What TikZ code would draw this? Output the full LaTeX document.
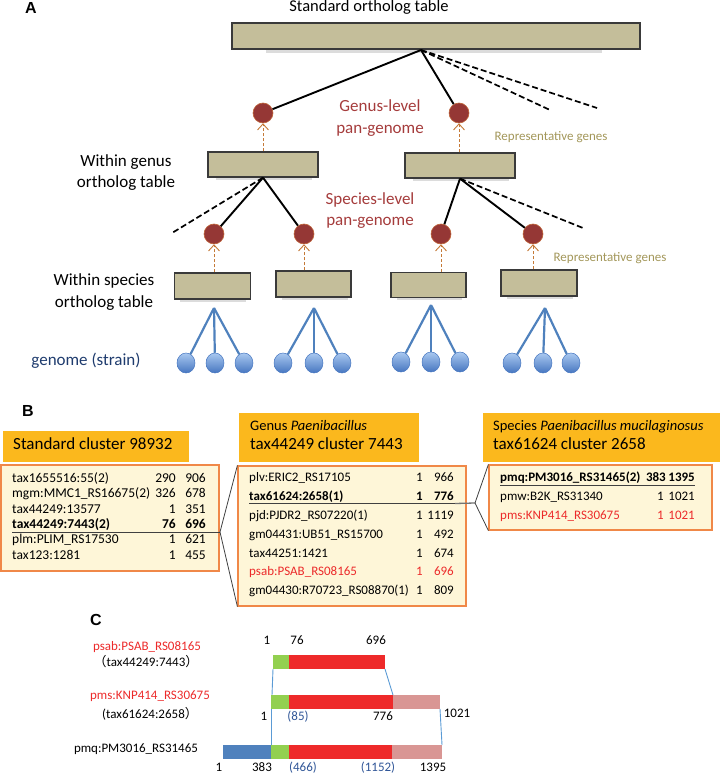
\documentclass[tikz,border=0pt]{standalone}
\usepackage{fontspec}
\setmainfont{Carlito}
\newfontfamily\lbfont{Liberation Sans}
\newfontfamily\cjk{Noto Sans CJK SC}
\usetikzlibrary{arrows.meta,shapes.geometric}
\definecolor{boxtan}{HTML}{C4BE9A}
\definecolor{boxline}{HTML}{3A3A3A}
\definecolor{gred}{HTML}{953735}
\definecolor{gedge}{HTML}{C0663A}
\definecolor{oarrc}{HTML}{C57A38}
\definecolor{redtxt}{HTML}{A53C3C}
\definecolor{olivetxt}{HTML}{A3975A}
\definecolor{blin}{HTML}{4F81BD}
\definecolor{elltop}{HTML}{A9C8F0}
\definecolor{ellbot}{HTML}{4676C0}
\definecolor{gdark}{HTML}{1F3C6E}
\definecolor{hdrc}{HTML}{FBB81D}
\definecolor{tfillc}{HTML}{FEF6D8}
\definecolor{tdrawc}{HTML}{F08848}
\definecolor{tred}{HTML}{EC2A2A}
\definecolor{bargreen}{HTML}{92D050}
\definecolor{barred}{HTML}{EE2A2A}
\definecolor{barpink}{HTML}{D99694}
\definecolor{barblue}{HTML}{4F81BD}
\definecolor{cline}{HTML}{5B9BD5}
\definecolor{numblue}{HTML}{2F5597}
\begin{document}
\begin{tikzpicture}[x=1pt,y=-1pt,
  lbl/.style={font=\lbfont\bfseries\fontsize{16}{18}\selectfont, inner sep=0},
  big/.style={font=\fontsize{17}{20}\selectfont, inner sep=0, text height=0.7em, text depth=0.2em},
  redt/.style={big, text=redtxt},
  repg/.style={font=\fontsize{13}{15}\selectfont, inner sep=0, text height=0.7em, text depth=0.2em, text=olivetxt},
  tbox/.style={rectangle, draw=boxline, line width=1.3pt, fill=boxtan, inner sep=0},
  shad/.style={fill=gray!55, opacity=0.5},
  gcirc/.style={circle, minimum size=20, inner sep=0, fill=gred, draw=gedge, line width=0.6pt},
  tline/.style={line width=1.9pt, black},
  dline/.style={line width=1.7pt, black, dash pattern=on 6pt off 3pt},
  oarr/.style={oarrc, line width=0.9pt, dash pattern=on 3pt off 2pt, -{Straight Barb[length=6pt,width=11pt]}},
  gell/.style={ellipse, minimum width=18, minimum height=20, inner sep=0, top color=elltop, bottom color=ellbot, draw=ellbot, line width=0.5pt},
  bline/.style={blin, line width=2.2pt},
  hdr/.style={rectangle, fill=hdrc, inner sep=0},
  tab/.style={rectangle, fill=tfillc, draw=tdrawc, line width=1.2pt, inner sep=0},
  hbig/.style={font=\fontsize{17}{20}\selectfont, inner sep=0, anchor=west, text height=0.7em, text depth=0.2em},
  hsmall/.style={font=\fontsize{14.5}{17}\selectfont, inner sep=0, anchor=west, text height=0.7em, text depth=0.2em},
  ra/.style={font=\fontsize{13.5}{16}\selectfont, inner sep=0, anchor=west, text height=0.7em, text depth=0.2em},
  rn/.style={ra, anchor=east},
  rb/.style={font=\fontsize{13}{16}\selectfont, inner sep=0, anchor=west, text height=0.7em, text depth=0.2em},
  rbn/.style={rb, anchor=east},
  conn/.style={black!75, line width=0.8pt},
  ctext/.style={font=\fontsize{13}{16}\selectfont, inner sep=0, text height=0.7em, text depth=0.2em},
  blink/.style={cline, line width=0.9pt}
]
\useasboundingbox (0,0) rectangle (720,775);

% ================= Part A =================
\node[lbl] (labA) at (31,8) {A};
\node[big, font=\fontsize{16.5}{20}\selectfont] (ttl) at (369,9) {Standard ortholog table};
\fill[shad] (266,49) rectangle (602,53);
\node[tbox, minimum width=408, minimum height=26] (top) at (436,36) {};
\coordinate (ta) at (421,50);

\node[gcirc] (g1) at (263,113) {};
\node[gcirc] (g2) at (459,113) {};
\draw[tline] (ta) -- (g1);
\draw[tline] (ta) -- (g2);
\coordinate (td1) at (550,110);
\coordinate (td2) at (597,108);
\draw[dline] (ta) -- (td1);
\draw[dline] (ta) -- (td2);

\node[redt] (gl1) at (380,109) {Genus-level};
\node[redt] (gl2) at (380,131) {pan-genome};
\node[repg] (rg1) at (551,138) {Representative genes};

\fill[shad] (216,177) rectangle (312,180);
\fill[shad] (413,178) rectangle (509,181);
\node[tbox, minimum width=110, minimum height=25] (gb1) at (263,164.5) {};
\node[tbox, minimum width=110, minimum height=25] (gb2) at (460,165.5) {};
\draw[oarr] (gb1.north) -- (g1.south);
\draw[oarr] (gb2.north -| g2) -- (g2.south);
\node[big] (wg1) at (126,164) {Within genus};
\node[big] (wg2) at (126,185) {ortholog table};

\node[redt] (sl1) at (370,202) {Species-level};
\node[redt] (sl2) at (370,223) {pan-genome};

\node[gcirc] (s1) at (214,234) {};
\node[gcirc] (s2) at (304,234) {};
\node[gcirc] (s3) at (441,234) {};
\node[gcirc] (s4) at (533,234) {};
\coordinate (sd1) at (172,233);
\coordinate (sd2) at (583,228);
\draw[dline] (gb1.south) -- (sd1);
\draw[dline] (gb2.south) -- (sd2);
\draw[tline] (gb1.south) -- (s1);
\draw[tline] (gb1.south) -- (s2);
\draw[tline] (gb2.south) -- (s3);
\draw[tline] (gb2.south) -- (s4);

\node[repg] (rg2) at (610,259) {Representative genes};

\fill[shad] (180,299) rectangle (246,302);
\fill[shad] (282,297) rectangle (348,300);
\fill[shad] (397,297) rectangle (462,300);
\fill[shad] (507,296) rectangle (573,299);
\node[tbox, minimum width=76, minimum height=26] (sb1) at (212.5,286) {};
\node[tbox, minimum width=75, minimum height=26] (sb2) at (313.5,284) {};
\node[tbox, minimum width=75, minimum height=25] (sb3) at (428.5,285) {};
\node[tbox, minimum width=76, minimum height=26] (sb4) at (539,283) {};
\draw[oarr] (sb1.north -| s1) -- (s1.south);
\draw[oarr] (sb2.north -| s2) -- (s2.south);
\draw[oarr] (sb3.north -| s3) -- (s3.south);
\draw[oarr] (sb4.north -| s4) -- (s4.south);
\node[big] (ws1) at (104,283) {Within species};
\node[big] (ws2) at (104,305) {ortholog table};

% genomes
\coordinate (ga1) at (214,308);
\coordinate (ga2) at (314,308);
\coordinate (ga3) at (431,305);
\coordinate (ga4) at (545,308);
\foreach \g/\a/\b/\c/\yy in {1/186/215/244/363, 2/283/314/342/363, 3/401/431/460/362, 4/512/543/571/363}{
  \node[gell] (e\g a) at (\a,\yy) {};
  \node[gell] (e\g b) at (\b,\yy) {};
  \node[gell] (e\g c) at (\c,\yy) {};
  \draw[bline] (ga\g) -- (e\g a);
  \draw[bline] (ga\g) -- (e\g b);
  \draw[bline] (ga\g) -- (e\g c);
}
\node[big, text=gdark] (gst) at (86,363) {genome (strain)};

% ================= Part B =================
\node[lbl] (labB) at (28,411) {B};
\node[hdr, minimum width=186, minimum height=31] (h1) at (96,446.5) {};
\node[hdr, minimum width=180, minimum height=49] (h2) at (329,437.5) {};
\node[hdr, minimum width=237, minimum height=49] (h3) at (601.5,437.5) {};
\node[hbig] (h1t) at (13,447) {Standard cluster 98932};
\node[hsmall] (h2a) at (250,428) {Genus \textit{Paenibacillus}};
\node[hbig] (h2b) at (250,447) {tax44249 cluster 7443};
\node[hsmall] (h3a) at (493,428) {Species \textit{Paenibacillus mucilaginosus}};
\node[hbig] (h3b) at (493,447) {tax61624 cluster 2658};

\node[tab, minimum width=218, minimum height=106] (t1) at (110,518) {};
\node[tab, minimum width=228, minimum height=140] (t2) at (352,536) {};
\node[tab, minimum width=223, minimum height=65] (t3) at (600.5,497.5) {};

% table 1
\node[ra] (t1r1) at (12,480) {tax1655516:55(2)};
\node[rn] (t1r1a) at (176,480) {290};
\node[rn] (t1r1b) at (206,480) {906};
\node[ra] (t1r2) at (12,495) {mgm:MMC1\_RS16675(2)};
\node[rn] (t1r2a) at (176,495) {326};
\node[rn] (t1r2b) at (206,495) {678};
\node[ra] (t1r3) at (12,510.5) {tax44249:13577};
\node[rn] (t1r3a) at (176,510.5) {1};
\node[rn] (t1r3b) at (206,510.5) {351};
\node[ra, font=\fontsize{13.5}{16}\selectfont\bfseries] (t1r4) at (12,525.5) {tax44249:7443(2)};
\node[rn, font=\fontsize{13.5}{16}\selectfont\bfseries] (t1r4a) at (176,525.5) {76};
\node[rn, font=\fontsize{13.5}{16}\selectfont\bfseries] (t1r4b) at (206,525.5) {696};
\node[ra] (t1r5) at (12,541) {plm:PLIM\_RS17530};
\node[rn] (t1r5a) at (176,541) {1};
\node[rn] (t1r5b) at (206,541) {621};
\node[ra] (t1r6) at (12,556.5) {tax123:1281};
\node[rn] (t1r6a) at (176,556.5) {1};
\node[rn] (t1r6b) at (206,556.5) {455};

% table 2
\node[rb] (t2r1) at (249,479) {plv:ERIC2\_RS17105};
\node[rbn] (t2r1a) at (423,479) {1};
\node[rbn] (t2r1b) at (454,479) {966};
\node[rb, font=\fontsize{13}{16}\selectfont\bfseries] (t2r2) at (249,498) {tax61624:2658(1)};
\node[rbn, font=\fontsize{13}{16}\selectfont\bfseries] (t2r2a) at (423,498) {1};
\node[rbn, font=\fontsize{13}{16}\selectfont\bfseries] (t2r2b) at (454,498) {776};
\node[rb] (t2r3) at (249,517) {pjd:PJDR2\_RS07220(1)};
\node[rbn] (t2r3a) at (423,517) {1};
\node[rbn] (t2r3b) at (454,517) {1119};
\node[rb] (t2r4) at (249,536) {gm04431:UB51\_RS15700};
\node[rbn] (t2r4a) at (423,536) {1};
\node[rbn] (t2r4b) at (454,536) {492};
\node[rb] (t2r5) at (249,554.5) {tax44251:1421};
\node[rbn] (t2r5a) at (423,554.5) {1};
\node[rbn] (t2r5b) at (454,554.5) {674};
\node[rb, text=tred] (t2r6) at (249,573) {psab:PSAB\_RS08165};
\node[rbn, text=tred] (t2r6a) at (423,573) {1};
\node[rbn, text=tred] (t2r6b) at (454,573) {696};
\node[rb] (t2r7) at (249,592) {gm04430:R70723\_RS08870(1)};
\node[rbn] (t2r7a) at (423,592) {1};
\node[rbn] (t2r7b) at (454,592) {809};

% table 3
\node[rb, font=\fontsize{13}{16}\selectfont\bfseries] (t3r1) at (500,479) {pmq:PM3016\_RS31465(2)};
\node[rbn, font=\fontsize{13}{16}\selectfont\bfseries] (t3r1a) at (666,479) {383};
\node[rbn, font=\fontsize{13}{16}\selectfont\bfseries] (t3r1b) at (695,479) {1395};
\node[rb] (t3r2) at (500,498) {pmw:B2K\_RS31340};
\node[rbn] (t3r2a) at (664,498) {1};
\node[rbn] (t3r2b) at (695,498) {1021};
\node[rb, text=tred] (t3r3) at (500,517) {pms:KNP414\_RS30675};
\node[rbn, text=tred] (t3r3a) at (664,517) {1};
\node[rbn, text=tred] (t3r3b) at (695,517) {1021};

% underlines and zoom connectors
\coordinate (u1a) at (12,532);
\coordinate (u1b) at (220,532);
\draw[conn] (u1a) -- (u1b);
\draw[conn] (u1b) -- (t2.north west);
\draw[conn] (u1b) -- (t2.south west);
\coordinate (u2a) at (249,503.5);
\coordinate (u2b) at (455,503.5);
\coordinate (u2c) at (475,503);
\draw[conn] (u2a) -- (u2b);
\draw[black!55, line width=1.3pt] (u2b) -- (u2c);
\draw[conn] (u2c) -- (t3.north west);
\draw[conn] (u2c) -- (t3.south west);
\coordinate (u3a) at (500,485.5);
\coordinate (u3b) at (695,485.5);
\draw[conn] (u3a) -- (u3b);

% ================= Part C =================
\node[lbl] (labC) at (96,620) {C};
\node[ctext, text=tred] (cn1) at (147,648) {psab:PSAB\_RS08165};
\node[ctext] (cn1b) at (146,664) {{\cjk （}tax44249:7443{\cjk ）}};
\node[ctext, text=tred] (cn2) at (150,697) {pms:KNP414\_RS30675};
\node[ctext] (cn2b) at (150,716) {(tax61624:2658{\cjk ）}};
\node[ctext] (cn3) at (136,750) {pmq:PM3016\_RS31465};

% bars
\fill[bargreen] (273,655) rectangle (289,669);
\fill[barred] (289,655) rectangle (385,669);
\fill[bargreen] (271,695) rectangle (289,709);
\fill[barred] (289,695) rectangle (393,709);
\fill[barpink] (393,695) rectangle (440,709);
\fill[barblue] (223,745) rectangle (271,759);
\fill[bargreen] (271,745) rectangle (289,759);
\fill[barred] (289,745) rectangle (392,759);
\fill[barpink] (392,745) rectangle (442,759);

\coordinate (b1l) at (273,669);
\coordinate (b1r) at (385,669);
\coordinate (b2lt) at (272,695);
\coordinate (b2rt) at (393,695);
\coordinate (b2lb) at (271,709);
\coordinate (b2rb) at (440,709);
\coordinate (b3l) at (271,745);
\coordinate (b3r) at (442,745);
\draw[blink] (b1l) -- (b2lt);
\draw[blink] (b1r) -- (b2rt);
\draw[blink] (b2lb) -- (b3l);
\draw[blink] (b2rb) -- (b3r);

\node[ctext] (n1a) at (267,642) {1};
\node[ctext] (n1b) at (297,642) {76};
\node[ctext] (n1c) at (376,642) {696};
\node[ctext] (n2a) at (264,718) {1};
\node[ctext, text=numblue] (n2b) at (298,718) {(85)};
\node[ctext] (n2c) at (383,718) {776};
\node[ctext] (n2d) at (457,715) {1021};
\node[ctext] (n3a) at (219,769) {1};
\node[ctext] (n3b) at (262,769) {383};
\node[ctext, text=numblue] (n3c) at (303,769) {(466)};
\node[ctext, text=numblue] (n3d) at (378,769) {(1152)};
\node[ctext] (n3e) at (433,769) {1395};
\end{tikzpicture}
\end{document}
